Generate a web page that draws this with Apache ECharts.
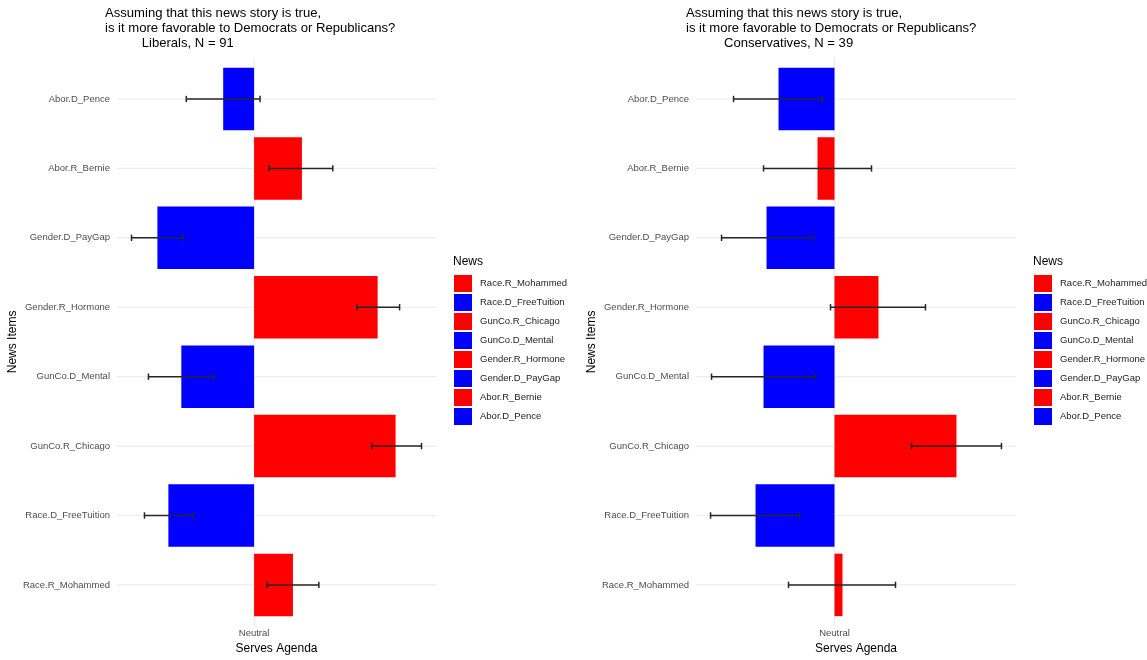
<!DOCTYPE html>
<html>
<head>
<meta charset="utf-8">
<script src="https://cdn.jsdelivr.net/npm/echarts@6/dist/echarts.min.js"></script>
<style>
html,body{margin:0;padding:0;background:#fff;}
#chart{width:1147px;height:660px;}
</style>
</head>
<body>
<div id="chart"></div>
<script>
// ---- data ----
const categories = ['Abor.D_Pence','Abor.R_Bernie','Gender.D_PayGap','Gender.R_Hormone','GunCo.D_Mental','GunCo.R_Chicago','Race.D_FreeTuition','Race.R_Mohammed'];
const barColors = ['#0000FF','#FF0000','#0000FF','#FF0000','#0000FF','#FF0000','#0000FF','#FF0000'];
const legendOrder = ['Race.R_Mohammed','Race.D_FreeTuition','GunCo.R_Chicago','GunCo.D_Mental','Gender.R_Hormone','Gender.D_PayGap','Abor.R_Bernie','Abor.D_Pence'];

const libMean = [-0.31, 0.48, -0.97, 1.24, -0.73, 1.42, -0.86, 0.39];
const libLow  = [-0.68, 0.15, -1.23, 1.03, -1.06, 1.18, -1.10, 0.13];
const libHigh = [ 0.06, 0.79, -0.71, 1.46, -0.40, 1.68, -0.61, 0.65];

const conMean = [-0.56, -0.17, -0.68, 0.44, -0.71, 1.22, -0.79, 0.08];
const conLow  = [-1.01, -0.71, -1.13, -0.04, -1.23, 0.77, -1.24, -0.46];
const conHigh = [-0.12, 0.37, -0.22, 0.91, -0.19, 1.67, -0.35, 0.61];

const titleLine = 'Assuming that this news story is true,\nis it more favorable to Democrats or Republicans?';
const libSub = 'Liberals, N = 91';
const conSub = 'Conservatives, N = 39';
const xTickLabel = 'Neutral';

// ---- build ----
const FONT = '"Liberation Sans", Arial, Helvetica, sans-serif';

function range(means, lows, highs) {
  const all = means.concat(lows, highs, [0]);
  const mn = Math.min(...all), mx = Math.max(...all);
  const pad = (mx - mn) * 0.05;
  return [mn - pad, mx + pad];
}
const libR = range(libMean, libLow, libHigh);
const conR = range(conMean, conLow, conHigh);

const grids = [
  {left: 117, top: 64.3, width: 319, height: 557},
  {left: 696, top: 64.3, width: 320, height: 557}
];

function xAxisOf(i, r) {
  return {
    type: 'value', gridIndex: i, min: r[0], max: r[1],
    axisLine: {show: false}, axisTick: {show: false}, splitLine: {show: false},
    axisLabel: {customValues: [0], formatter: () => xTickLabel, fontSize: 9.5, color: '#4d4d4d', fontFamily: FONT, margin: 8.5},
    name: 'Serves Agenda', nameLocation: 'middle', nameGap: 22.5,
    nameTextStyle: {fontSize: 12, color: '#000', fontFamily: FONT}
  };
}
function yAxisOf(i) {
  return {
    type: 'category', gridIndex: i, data: categories, inverse: true,
    axisLine: {show: false}, axisTick: {show: false}, splitLine: {show: false},
    axisLabel: {fontSize: 9.5, color: '#4d4d4d', fontFamily: FONT, margin: 7},
    name: 'News Items', nameLocation: 'middle', nameRotate: 90, nameGap: 97,
    nameTextStyle: {fontSize: 12, color: '#000', fontFamily: FONT}
  };
}

const series = [];
function gridSeries(i) {
  return {
    type: 'custom', xAxisIndex: i, yAxisIndex: i, silent: true, z: 0,
    data: categories.map((c, k) => [0, k]),
    encode: {x: 0, y: 1},
    renderItem: function (params, api) {
      const cs = params.coordSys;
      const y = api.coord([0, api.value(1)])[1];
      const band = api.size([0, 1])[1];
      const ext = band * 0.1;
      const children = [{
        type: 'line', shape: {x1: cs.x, y1: y, x2: cs.x + cs.width, y2: y},
        style: {stroke: '#ebebeb', lineWidth: 1.2}
      }];
      if (params.dataIndex === 0) {
        const x0 = api.coord([0, 0])[0];
        children.push({type: 'line', shape: {x1: x0, y1: cs.y - ext, x2: x0, y2: cs.y + cs.height + ext},
          style: {stroke: '#ebebeb', lineWidth: 1.2}});
      }
      return {type: 'group', children: children};
    }
  };
}
function barSeries(i, means, stack) {
  categories.forEach((c, k) => {
    series.push({
      type: 'bar', name: c, xAxisIndex: i, yAxisIndex: i, stack: stack,
      barCategoryGap: '10%', z: 2,
      itemStyle: {color: barColors[k]},
      data: categories.map((cc, j) => j === k ? means[k] : '-')
    });
  });
}
function errSeries(i, lows, highs) {
  return {
    type: 'custom', xAxisIndex: i, yAxisIndex: i, silent: true, z: 5,
    data: categories.map((c, k) => [lows[k], highs[k], k]),
    encode: {x: [0, 1], y: 2},
    renderItem: function (params, api) {
      const p1 = api.coord([api.value(0), api.value(2)]);
      const p2 = api.coord([api.value(1), api.value(2)]);
      const h = 3.2;
      const st = {stroke: '#262626', lineWidth: 1.5};
      return {type: 'group', children: [
        {type: 'line', shape: {x1: p1[0], y1: p1[1], x2: p2[0], y2: p2[1]}, style: st},
        {type: 'line', shape: {x1: p1[0], y1: p1[1] - h, x2: p1[0], y2: p1[1] + h}, style: st},
        {type: 'line', shape: {x1: p2[0], y1: p2[1] - h, x2: p2[0], y2: p2[1] + h}, style: st}
      ]};
    }
  };
}
series.push(gridSeries(0), gridSeries(1));
barSeries(0, libMean, 'lib');
barSeries(1, conMean, 'con');
series.push(errSeries(0, libLow, libHigh), errSeries(1, conLow, conHigh));

function legendOf(left) {
  return {
    orient: 'vertical', left: left, top: 275, padding: 0,
    itemWidth: 18, itemHeight: 17, itemGap: 2, icon: 'rect',
    data: legendOrder, selectedMode: false,
    textStyle: {fontSize: 9.5, color: '#222', fontFamily: FONT, padding: [0, 0, 0, 3]}
  };
}

const titleStyle = {fontSize: 13.1, lineHeight: 15, fontWeight: 'normal', color: '#000', fontFamily: FONT};
const option = {
  animation: false,
  backgroundColor: '#fff',
  title: [
    {text: titleLine, left: 105, top: 5.5, padding: 0, textStyle: titleStyle},
    {text: libSub, left: 141.7, top: 35.5, padding: 0, textStyle: titleStyle},
    {text: titleLine, left: 686, top: 5.5, padding: 0, textStyle: titleStyle},
    {text: conSub, left: 724, top: 35.5, padding: 0, textStyle: titleStyle}
  ],
  graphic: [
    {type: 'text', left: 453, top: 256, style: {text: 'News', fontSize: 12, fill: '#000', fontFamily: FONT}},
    {type: 'text', left: 1033, top: 256, style: {text: 'News', fontSize: 12, fill: '#000', fontFamily: FONT}}
  ],
  legend: [legendOf(454), legendOf(1034)],
  grid: grids,
  xAxis: [xAxisOf(0, libR), xAxisOf(1, conR)],
  yAxis: [yAxisOf(0), yAxisOf(1)],
  series: series
};
const chart = echarts.init(document.getElementById('chart'), null, {renderer: 'canvas'});
chart.setOption(option);
</script>
</body>
</html>
